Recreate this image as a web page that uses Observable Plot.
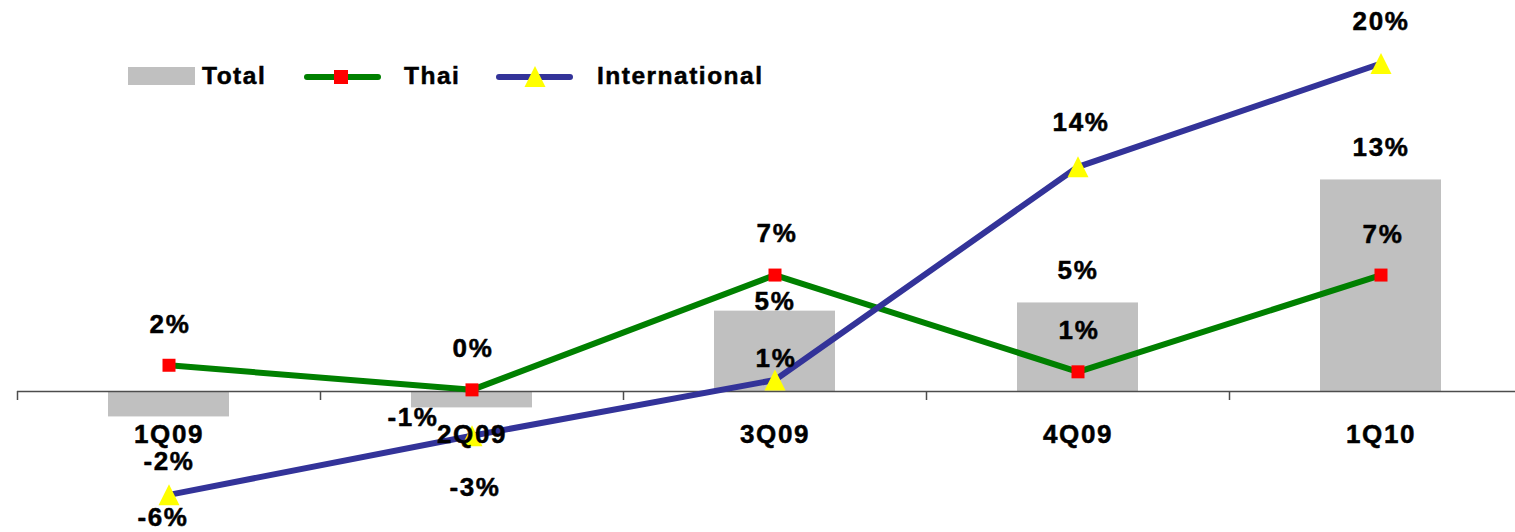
<!DOCTYPE html>
<html><head><meta charset="utf-8">
<script src="https://cdn.jsdelivr.net/npm/d3@7"></script>
<script src="https://cdn.jsdelivr.net/npm/@observablehq/plot@0.6"></script>
<style>
body{margin:0;background:#fff;}
#wrap{position:relative;width:1515px;height:532px;overflow:hidden;}
#wrap > svg.legend{position:absolute;left:0;top:0;pointer-events:none;}
</style></head><body><div id="wrap"></div>
<script>
// ---- data ----
const quarters = ["1Q09", "2Q09", "3Q09", "4Q09", "1Q10"];
const total = [-1.55, -1.0, 4.9, 5.4, 12.9];
const thai = [1.6, 0.1, 7.1, 1.2, 7.1];
const international = [-6.3, -2.7, 0.7, 13.7, 20.0];
const seriesNames = ["Total", "Thai", "International"];

// ---- label layout (pixel offsets from each point) ----
const totalLabelDx = [0, -59, 0, 0, 0];
const totalLabelDy = [45, 10, -9, -32, -32];
const thaiLabelDx = [1, 1, 2, 1, 2];
const thaiLabelDy = [-41, -41, -41, -41, -40];
const intlLabelDx = [-6, 3, 1, 3, 0];
const intlLabelDy = [23, 52, -21, -44, -42];

const colors = {total: "#C0C0C0", thai: "#008000", thaiMarker: "#FF0000", intl: "#333399", intlMarker: "#FFFF00", axis: "#4d4d4d"};
const fmt = v => `${Math.round(v)}%`;

const rows = quarters.map((q, i) => ({q, total: total[i], thai: thai[i], intl: international[i]}));

const squareSym = {draw(ctx, size) { const r = Math.sqrt(size / Math.PI); ctx.moveTo(-r, -r); ctx.lineTo(r, -r); ctx.lineTo(r, r); ctx.lineTo(-r, r); ctx.closePath(); }};
const triSym = {draw(ctx, size) { const r = Math.sqrt(size / Math.PI); ctx.moveTo(0, -r); ctx.lineTo(r, r); ctx.lineTo(-r, r); ctx.closePath(); }};

const step = 303;
const x0 = 17.5;
const txt = {fill: "#000", stroke: "#000", strokeWidth: 0.5};

const labelMarks = [];
rows.forEach((r, i) => {
  labelMarks.push(Plot.text([r], {x: "q", y: "total", text: d => fmt(d.total), dx: totalLabelDx[i], dy: totalLabelDy[i], ...txt}));
  labelMarks.push(Plot.text([r], {x: "q", y: "thai", text: d => fmt(d.thai), dx: thaiLabelDx[i], dy: thaiLabelDy[i], ...txt}));
  labelMarks.push(Plot.text([r], {x: "q", y: "intl", text: d => fmt(d.intl), dx: intlLabelDx[i], dy: intlLabelDy[i], ...txt}));
});

const chart = Plot.plot({
  width: 1515, height: 532,
  marginLeft: 17, marginRight: 0, marginTop: 0, marginBottom: 0,
  x: {domain: quarters, range: [x0, x0 + 5 * step], paddingInner: 0.6, paddingOuter: 0.3, axis: null},
  y: {domain: [0, 20], range: [391, 63], axis: null},
  style: {fontFamily: "'Liberation Sans', Arial, sans-serif", fontSize: "26px", fontWeight: "bold", background: "#fff", color: "#000", letterSpacing: "1.6px"},
  marks: [
    Plot.barY(rows, {x: "q", y1: 0, y2: "total", fill: colors.total}),
    Plot.ruleY([0], {stroke: colors.axis, strokeWidth: 1.5}),
    Plot.ruleX(quarters, {x: d => d, y1: 0, y2: -0.55, dx: -step / 2, stroke: colors.axis, strokeWidth: 1.5}),
    Plot.line(rows, {x: "q", y: "thai", stroke: colors.thai, strokeWidth: 6}),
    Plot.line(rows, {x: "q", y: "intl", stroke: colors.intl, strokeWidth: 6}),
    Plot.dot(rows, {x: "q", y: "thai", symbol: squareSym, r: 6.5, fill: colors.thaiMarker, stroke: null}),
    Plot.dot(rows, {x: "q", y: "intl", symbol: triSym, r: 10.5, fill: colors.intlMarker, stroke: null}),
    Plot.text(quarters, {x: d => d, y: 0, dy: 43, text: d => d, ...txt}),
    ...labelMarks
  ]
});
const wrap = document.getElementById("wrap");
wrap.appendChild(chart);

// ---- legend overlay ----
const lg = d3.select(wrap).append("svg").attr("class", "legend").attr("width", 1515).attr("height", 110)
  .style("font-family", "'Liberation Sans', Arial, sans-serif").style("font-weight", "bold").style("font-size", "24.5px").style("letter-spacing", "1.5px")
  .attr("fill", "#000").attr("stroke", "#000").attr("stroke-width", 0.5);
lg.append("rect").attr("x", 128).attr("y", 67).attr("width", 67).attr("height", 18).attr("fill", colors.total).attr("stroke", "none");
lg.append("text").attr("x", 202).attr("y", 84).text(seriesNames[0]);
lg.append("line").attr("x1", 307).attr("x2", 378).attr("y1", 77).attr("y2", 77).attr("stroke", colors.thai).attr("stroke-width", 6).attr("stroke-linecap", "round");
lg.append("rect").attr("x", 334).attr("y", 70).attr("width", 14).attr("height", 14).attr("fill", colors.thaiMarker).attr("stroke", "none");
lg.append("text").attr("x", 404).attr("y", 84).text(seriesNames[1]);
lg.append("line").attr("x1", 499).attr("x2", 570).attr("y1", 77).attr("y2", 77).attr("stroke", colors.intl).attr("stroke-width", 6).attr("stroke-linecap", "round");
lg.append("path").attr("d", "M535,66L545.5,87L524.5,87Z").attr("fill", colors.intlMarker).attr("stroke", "none");
lg.append("text").attr("x", 597).attr("y", 84).text(seriesNames[2]);
</script></body></html>
